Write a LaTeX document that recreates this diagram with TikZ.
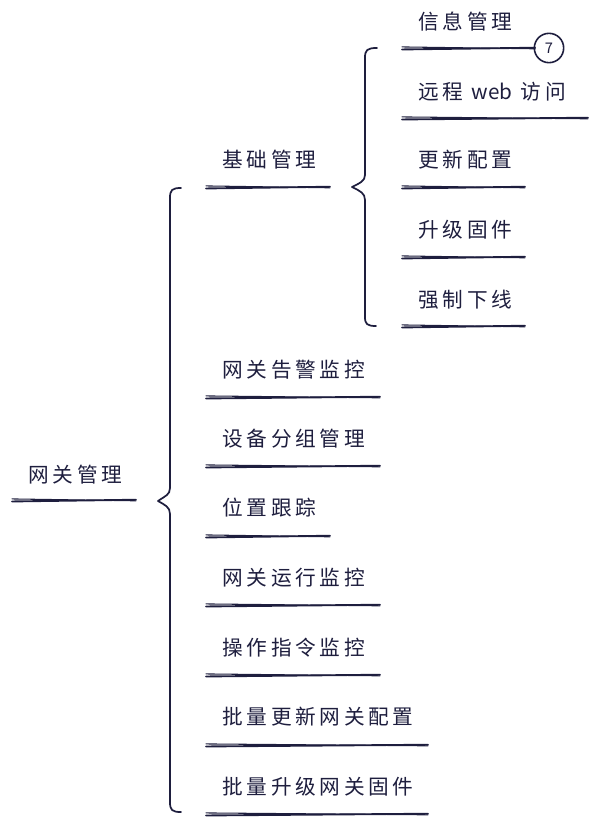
\documentclass[tikz,border=0pt]{standalone}
\usepackage{fontspec}
\newfontfamily\cjk[LetterSpace=18]{Noto Sans CJK SC}
\newfontfamily\cjkplain{Noto Sans CJK SC}
\definecolor{ink}{RGB}{30,30,62}
\tikzset{
  lbl/.style={anchor=west, inner sep=0pt, text=ink, font=\cjk\fontsize{15.5}{15.5}\selectfont},
  uline/.style={draw=ink, line width=1.4pt, line cap=round},
  ulinethin/.style={draw=ink, line width=0.8pt, line cap=round},
  bracepath/.style={draw=ink, line width=1.3pt, line cap=round, line join=round},
}
\newcommand\dbl[2]{%
  \draw[uline] ([yshift=-1.1pt]#1) -- ([yshift=0.2pt]#2);
  \draw[ulinethin] ([yshift=0.8pt]#1) -- ([yshift=-0.6pt]#2);}
\begin{document}
\begin{tikzpicture}[x=0.75pt,y=-0.75pt]
\useasboundingbox (0,0) rectangle (613,827);
% root
\node[lbl] (root) at (28,475) {网关管理};
\coordinate (rootA) at (12,500); \coordinate (rootB) at (136,500);
\dbl{rootA}{rootB}
% big brace
\coordinate (bt) at (181,188); \coordinate (bb) at (181,812); \coordinate (btip) at (158,501);
\draw[bracepath] (bt) .. controls (172,188) and (170,190) .. (170,198) -- (170,488)
  .. controls (170,495) and (165,496) .. (btip) .. controls (165,505) and (170,507) .. (170,514)
  -- (170,802) .. controls (170,810) and (172,812) .. (bb);
% level 1
\node[lbl] (a1) at (222,160) {基础管理};
\coordinate (a1A) at (206,187); \coordinate (a1B) at (330,187); \dbl{a1A}{a1B}
\node[lbl] (a2) at (222,370) {网关告警监控};
\coordinate (a2A) at (206,397); \coordinate (a2B) at (380,397); \dbl{a2A}{a2B}
\node[lbl] (a3) at (222,439) {设备分组管理};
\coordinate (a3A) at (206,466); \coordinate (a3B) at (380,466); \dbl{a3A}{a3B}
\node[lbl] (a4) at (222,508) {位置跟踪};
\coordinate (a4A) at (206,536); \coordinate (a4B) at (330,536); \dbl{a4A}{a4B}
\node[lbl] (a5) at (222,578) {网关运行监控};
\coordinate (a5A) at (206,605); \coordinate (a5B) at (380,605); \dbl{a5A}{a5B}
\node[lbl] (a6) at (222,648) {操作指令监控};
\coordinate (a6A) at (206,675); \coordinate (a6B) at (380,675); \dbl{a6A}{a6B}
\node[lbl] (a7) at (222,717) {批量更新网关配置};
\coordinate (a7A) at (206,745); \coordinate (a7B) at (428,745); \dbl{a7A}{a7B}
\node[lbl] (a8) at (222,787) {批量升级网关固件};
\coordinate (a8A) at (206,814); \coordinate (a8B) at (428,814); \dbl{a8A}{a8B}
% second brace
\coordinate (st) at (377,48); \coordinate (sb) at (376,326); \coordinate (stip) at (352,187);
\draw[bracepath] (st) .. controls (367,48) and (365,50) .. (365,58) -- (365,175)
  .. controls (365,181) and (360,183) .. (stip) .. controls (360,191) and (365,193) .. (365,200)
  -- (365,317) .. controls (365,324) and (367,326) .. (sb);
% level 2
\node[lbl] (b1) at (418,22) {信息管理};
\coordinate (b1A) at (402,48); \coordinate (b1B) at (535,48); \dbl{b1A}{b1B}
\node[circle, draw=ink, line width=1.2pt, minimum size=22pt, inner sep=0pt, text=ink,
      font=\cjkplain\fontsize{11}{11}\selectfont] (c7) at (549,48) {7};
\draw[uline] (b1B) -- (c7.west);
\node[lbl] (b2) at (418,92) {远程 {\cjkplain\fontsize{15.5}{15.5}\selectfont web} 访问};
\coordinate (b2A) at (402,118); \coordinate (b2B) at (588,118); \dbl{b2A}{b2B}
\node[lbl] (b3) at (418,160) {更新配置};
\coordinate (b3A) at (402,187); \coordinate (b3B) at (525,187); \dbl{b3A}{b3B}
\node[lbl] (b4) at (418,230) {升级固件};
\coordinate (b4A) at (402,257); \coordinate (b4B) at (525,257); \dbl{b4A}{b4B}
\node[lbl] (b5) at (418,300) {强制下线};
\coordinate (b5A) at (402,326); \coordinate (b5B) at (525,326); \dbl{b5A}{b5B}
\end{tikzpicture}
\end{document}
